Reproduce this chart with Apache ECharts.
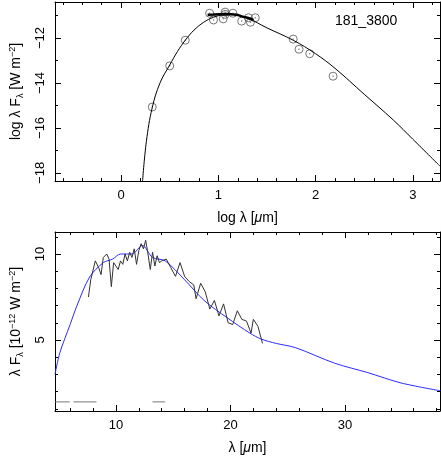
<!DOCTYPE html>
<html><head><meta charset="utf-8">
<script src="https://cdn.jsdelivr.net/npm/echarts@6/dist/echarts.min.js"></script>
<style>html,body{margin:0;padding:0;background:#fff}#c{width:441px;height:463px}</style>
</head><body><div id="c"></div>
<script>
// top panel: photometry (log)
var photX = [0.32, 0.50, 0.66, 0.91, 0.95, 1.05, 1.07, 1.07, 1.15, 1.24, 1.31, 1.33, 1.38, 1.77, 1.83, 1.94, 2.18];
var photY = [-15.07, -13.24, -12.1, -10.9, -11.2, -11.15, -10.85, -10.95, -10.9, -11.25, -11.1, -11.3, -11.1, -12.05, -12.5, -12.7, -13.7];
var modelLogX = [0.22, 0.26, 0.32, 0.4, 0.5, 0.58, 0.66, 0.75, 0.85, 0.95, 1.05, 1.15, 1.3, 1.5, 1.77, 2.0, 2.2, 2.5, 2.8, 3.0, 3.28];
var modelLogY = [-18.4, -16.6, -15.1, -14.0, -13.2, -12.6, -12.1, -11.65, -11.3, -11.08, -10.98, -10.97, -11.12, -11.55, -12.1, -12.7, -13.35, -14.5, -15.65, -16.5, -17.7];
var specLogX = [0.89, 0.95, 1.0, 1.05, 1.1, 1.15, 1.2, 1.25, 1.3, 1.36];
var specLogY = [-10.97, -10.96, -10.95, -10.93, -10.93, -10.95, -10.98, -11.05, -11.1, -11.2];
var topXTicks = [0, 1, 2, 3];
var topYTicks = [-12, -14, -16, -18];

// bottom panel: spectrum (linear)
var modelX = [4.68, 5.1, 6.0, 6.6, 7.7, 8.9, 9.7, 10.4, 11.4, 12.3, 13.2, 14.3, 16.0, 17.7, 19.7, 21.7, 22.7, 24.0, 25.7, 29.1, 32.0, 34.9, 38.3];
var modelY = [3.0, 4.25, 5.9, 7.0, 8.66, 9.5, 9.7, 10.0, 10.0, 10.5, 9.8, 9.6, 8.5, 7.3, 6.3, 5.4, 5.05, 4.8, 4.55, 3.65, 3.1, 2.5, 2.05];
var specX = [7.6, 7.8, 8.2, 8.5, 8.7, 8.9, 9.2, 9.4, 9.6, 9.8, 10.0, 10.2, 10.4, 10.6, 10.8, 11.0, 11.2, 11.4, 11.6, 11.8, 12.0, 12.2, 12.4, 12.6, 12.8, 13.0, 13.2, 13.4, 13.6, 13.8, 14.0, 14.4, 14.8, 15.2, 15.6, 16.0, 16.4, 16.8, 17.0, 17.4, 17.8, 18.2, 18.6, 19.0, 19.4, 19.8, 20.2, 20.6, 21.0, 21.4, 21.8, 22.0, 22.4, 22.8];
var specY = [7.5, 8.5, 9.6, 9.2, 8.8, 9.8, 10.0, 9.7, 8.1, 9.5, 9.3, 9.1, 9.6, 9.4, 10.0, 9.6, 10.1, 9.8, 10.3, 9.4, 10.2, 10.6, 10.3, 10.8, 10.0, 9.1, 10.1, 9.3, 9.9, 9.5, 9.6, 9.7, 9.2, 8.7, 9.5, 8.7, 8.4, 8.2, 7.4, 8.3, 7.8, 6.8, 7.3, 6.4, 7.1, 6.0, 5.9, 6.7, 6.2, 6.1, 5.4, 6.2, 5.8, 4.8];
var dashSegs = [[4.7, 5.97], [6.3, 8.3], [13.2, 14.3]];
var dashY = 1.4;
var botXTicks = [10, 20, 30];
var botYTicks = [5, 10];

function range(a, b, s) { var r = []; for (var v = a; v <= b + 1e-9; v += s) r.push(+v.toFixed(4)); return r; }
function zip(a, b) { return a.map(function(v, i) { return [v, b[i]]; }); }

var font = 'Liberation Sans';
var lineSt = { color: '#000', width: 1 };

function mkAxis(gi, min, max, major, pos, showLabel, rot) {
  return {
    type: 'value', gridIndex: gi, min: min, max: max, position: pos,
    axisLine: { show: true, onZero: false, lineStyle: lineSt },
    splitLine: { show: false },
    axisTick: { show: true, inside: true, length: 6, customValues: major, lineStyle: lineSt },
    axisLabel: { show: showLabel, customValues: major, color: '#000', fontFamily: font, fontSize: 13, rotate: rot || 0, margin: 8,
      formatter: function(v) { return String(v).replace('-', '\u2212'); } }
  };
}
function minorAxis(gi, min, max, vals, pos) {
  return {
    type: 'value', gridIndex: gi, min: min, max: max, position: pos,
    axisLine: { show: false, onZero: false }, splitLine: { show: false },
    axisTick: { show: true, inside: true, length: 3, customValues: vals, lineStyle: lineSt },
    axisLabel: { show: false, customValues: vals }
  };
}

var tx = [-0.68, 3.28], ty = [-18.36, -10.4], bx = [4.68, 38.3], by = [0.87, 11.28];

var xName = { color: '#000', fontFamily: font, fontSize: 14, rich: { i: { fontStyle: 'italic', fontFamily: font, fontSize: 14 } } };
var xAxes = [
  mkAxis(0, tx[0], tx[1], topXTicks, 'bottom', true),
  mkAxis(0, tx[0], tx[1], topXTicks, 'top', false),
  minorAxis(0, tx[0], tx[1], range(-0.6, 3.2, 0.2), 'bottom'),
  minorAxis(0, tx[0], tx[1], range(-0.6, 3.2, 0.2), 'top'),
  mkAxis(1, bx[0], bx[1], botXTicks, 'bottom', true),
  mkAxis(1, bx[0], bx[1], botXTicks, 'top', false),
  minorAxis(1, bx[0], bx[1], range(6, 38, 2), 'bottom'),
  minorAxis(1, bx[0], bx[1], range(6, 38, 2), 'top')
];
xAxes[0].name = 'log λ [{i|μ}m]';
xAxes[0].nameLocation = 'middle'; xAxes[0].nameGap = 30; xAxes[0].nameTextStyle = xName;
xAxes[4].name = 'λ [{i|μ}m]';
xAxes[4].nameLocation = 'middle'; xAxes[4].nameGap = 30; xAxes[4].nameTextStyle = xName;

var yAxes = [
  mkAxis(0, ty[0], ty[1], topYTicks, 'left', true, 90),
  mkAxis(0, ty[0], ty[1], topYTicks, 'right', false),
  minorAxis(0, ty[0], ty[1], range(-18, -11, 1), 'left'),
  minorAxis(0, ty[0], ty[1], range(-18, -11, 1), 'right'),
  mkAxis(1, by[0], by[1], botYTicks, 'left', true, 90),
  mkAxis(1, by[0], by[1], botYTicks, 'right', false),
  minorAxis(1, by[0], by[1], range(1, 11, 1), 'left'),
  minorAxis(1, by[0], by[1], range(1, 11, 1), 'right')
];
var yName = { color: '#000', fontFamily: font, fontSize: 14, rich: { s: { fontSize: 9, fontFamily: font, verticalAlign: 'bottom', padding: [6, 0, 0, 0] }, p: { fontSize: 9, fontFamily: font, padding: [0, 0, 8, 0] } } };
yAxes[0].name = 'log λ F{s|λ} [W m{p|−2}]';
yAxes[0].nameLocation = 'middle'; yAxes[0].nameGap = 30; yAxes[0].nameTextStyle = yName;
yAxes[4].name = 'λ F{s|λ} [10{p|−12} W m{p|−2}]';
yAxes[4].nameLocation = 'middle'; yAxes[4].nameGap = 30; yAxes[4].nameTextStyle = yName;

var series = [
  { type: 'line', xAxisIndex: 0, yAxisIndex: 0, data: zip(modelLogX, modelLogY), smooth: 0.4, showSymbol: false, lineStyle: { color: '#000', width: 1 } },
  { type: 'line', xAxisIndex: 0, yAxisIndex: 0, data: zip(specLogX, specLogY), smooth: true, showSymbol: false, lineStyle: { color: '#000', width: 2.5 } },
  { type: 'scatter', xAxisIndex: 0, yAxisIndex: 0, data: zip(photX, photY), symbol: 'circle', symbolSize: 8, itemStyle: { color: 'rgba(255,255,255,0)', borderColor: '#555', borderWidth: 1 } },
  { type: 'scatter', xAxisIndex: 0, yAxisIndex: 0, data: zip(photX, photY), symbol: 'circle', symbolSize: 1.5, itemStyle: { color: '#555' } },
  { type: 'line', xAxisIndex: 4, yAxisIndex: 4, data: zip(modelX, modelY), smooth: 0.3, showSymbol: false, lineStyle: { color: '#2b2bff', width: 1 } },
  { type: 'line', xAxisIndex: 4, yAxisIndex: 4, data: zip(specX, specY), showSymbol: false, lineStyle: { color: '#333', width: 1 } }
];
dashSegs.forEach(function(s) {
  series.push({ type: 'line', xAxisIndex: 4, yAxisIndex: 4, data: [[s[0], dashY], [s[1], dashY]], showSymbol: false, lineStyle: { color: '#777', width: 1 } });
});

var chart = echarts.init(document.getElementById('c'));
chart.setOption({
  animation: false,
  backgroundColor: '#fff',
  grid: [
    { left: 48, top: 2, width: 392, height: 179 },
    { left: 48, top: 232, width: 392, height: 179 }
  ],
  graphic: [{ type: 'text', left: 335, top: 14, style: { text: '181_3800', fontFamily: font, fontSize: 14, fill: '#000' } }],
  xAxis: xAxes,
  yAxis: yAxes,
  series: series
});
</script>
</body></html>
